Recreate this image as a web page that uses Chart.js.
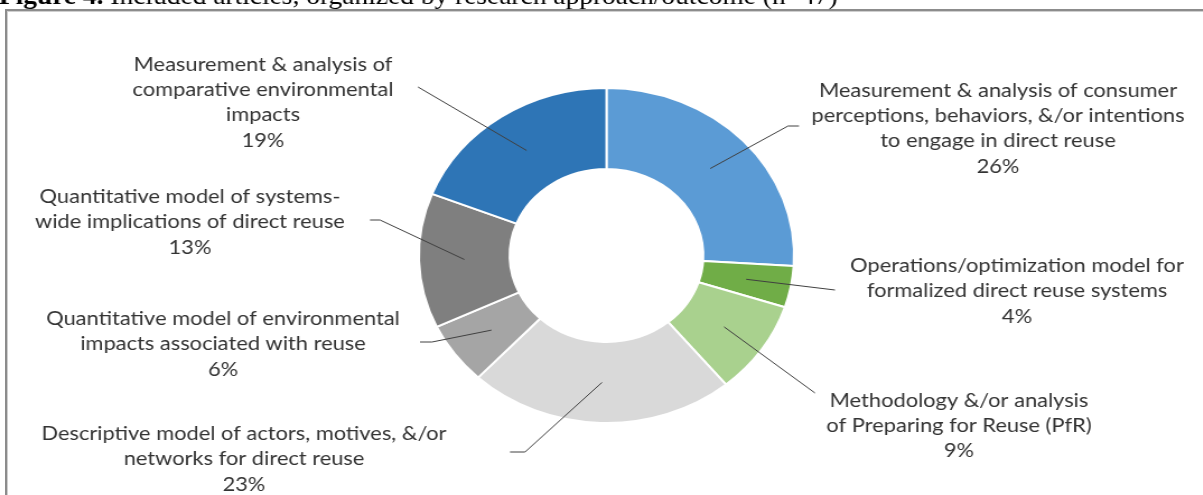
<!DOCTYPE html>
<html>
<head>
<meta charset="utf-8">
<title>Included articles by research approach</title>
<script src="https://cdn.jsdelivr.net/npm/chart.js@4.4.0/dist/chart.umd.min.js"></script>
<style>
    html, body { margin: 0; padding: 0; background: #fff; width: 1203px; height: 495px; overflow: hidden; }
    #frame {
        position: absolute; left: 5px; top: 9px; width: 1400px; height: 700px;
        border-left: 2px solid #8c8c8c; border-top: 2px solid #8c8c8c;
        box-shadow: inset 1px 1px 0 #cfcfcf;
    }
    /* the whole figure is stretched sideways, like the printed one */
    #wrap { position: absolute; left: 0; top: 0; width: 1074px; height: 495px; transform: scaleX(1.12); transform-origin: 0 0; }
</style>
</head>
<body>
<div id="frame"></div>
<div id="wrap"><canvas id="donut" width="1074" height="495" style="width:1074px;height:495px"></canvas></div>
<script>
// horizontal stretch applied to the canvas
const SX = 1.12;

// Research approach / outcome categories (n=47)
const categories = [
    'Measurement & analysis of consumer\nperceptions, behaviors, &/or intentions\nto engage in direct reuse',
    'Operations/optimization model for\nformalized direct reuse systems',
    'Methodology &/or analysis\nof Preparing for Reuse (PfR)',
    'Descriptive model of actors, motives, &/or\nnetworks for direct reuse',
    'Quantitative model of environmental\nimpacts associated with reuse',
    'Quantitative model of systems-\nwide implications of direct reuse',
    'Measurement & analysis of\ncomparative environmental\nimpacts'
];
const shares = [26, 4, 9, 23, 6, 13, 19];
const sliceColors = ['#5B9BD5', '#70AD47', '#A9D18E', '#D9D9D9', '#A5A5A5', '#7F7F7F', '#2E75B6'];

// where each callout sits (page pixels): text centre, first baseline, leader line points
const calloutLayout = [
    { x: 998,  y: 96.7,  leader: [[788, 126], [799, 126]] },
    { x: 1017, y: 272,   leader: [[835, 290]] },
    { x: 959,  y: 406.7, leader: [[815, 393]] },
    { x: 244,  y: 440,   leader: [[525, 452], [510, 452]] },
    { x: 223,  y: 325,   leader: [[432, 342], [420, 342]] },
    { x: 190,  y: 203,   leader: [[380, 220], [370, 220]] },
    { x: 263,  y: 70.7,  leader: [[418, 87]] }
];
const LINE_H = 25.3;
const TEXT_COLOR = '#333333';

// Leader lines from the middle of each slice plus the wrapped labels
const calloutPlugin = {
    id: 'callouts',
    afterDatasetsDraw(chart) {
        const ctx = chart.ctx;
        const arcs = chart.getDatasetMeta(0).data;
        ctx.save();
        arcs.forEach((arc, i) => {
            const p = arc.getProps(['x', 'y', 'startAngle', 'endAngle', 'innerRadius', 'outerRadius'], true);
            const mid = (p.startAngle + p.endAngle) / 2;
            const r = (p.innerRadius + p.outerRadius) / 2;
            const lay = calloutLayout[i];

            ctx.strokeStyle = '#404040';
            ctx.lineWidth = 1;
            ctx.beginPath();
            ctx.moveTo(p.x + Math.cos(mid) * r, p.y + Math.sin(mid) * r);
            lay.leader.forEach(([x, y]) => ctx.lineTo(x / SX, y));
            ctx.stroke();

            ctx.fillStyle = TEXT_COLOR;
            ctx.font = '19.5px Lato';
            ctx.textAlign = 'center';
            ctx.textBaseline = 'alphabetic';
            const lines = categories[i].split('\n').concat(shares[i] + '%');
            lines.forEach((t, k) => ctx.fillText(t, lay.x / SX, lay.y + k * LINE_H));
        });
        ctx.restore();
    }
};

// Figure caption, cut by the top edge
const captionPlugin = {
    id: 'caption',
    afterDraw(chart) {
        const ctx = chart.ctx;
        ctx.save();
        ctx.fillStyle = '#000';
        ctx.textAlign = 'left';
        ctx.textBaseline = 'alphabetic';
        ctx.font = 'bold 24.5px "Liberation Serif"';
        const lead = 'Figure 4.';
        ctx.fillText(lead, -1, 4);
        const w = ctx.measureText(lead).width;
        ctx.font = '24.5px "Liberation Serif"';
        ctx.fillText(' Included articles, organized by research approach/outcome (n=47)', -1 + w, 4);
        ctx.restore();
    }
};

new Chart(document.getElementById('donut'), {
    type: 'doughnut',
    data: {
        labels: categories,
        datasets: [{
            data: shares,
            backgroundColor: sliceColors,
            borderColor: '#FFFFFF',
            borderWidth: 2
        }]
    },
    options: {
        responsive: false,
        animation: false,
        cutout: '51.6%',
        layout: {
            padding: { left: 373, top: 87, right: 364, bottom: 71 }
        },
        plugins: {
            legend: { display: false },
            tooltip: { enabled: false }
        }
    },
    plugins: [calloutPlugin, captionPlugin]
});
</script>
</body>
</html>
